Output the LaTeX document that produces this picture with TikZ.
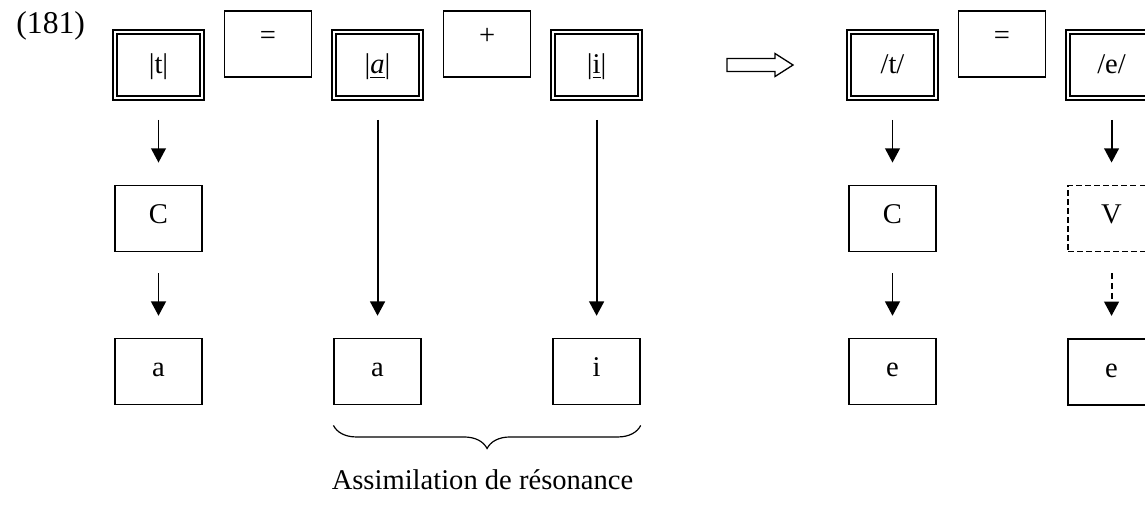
\documentclass[tikz,border=0pt]{standalone}
\usepackage{fontspec}
\setmainfont{Liberation Serif}
\usetikzlibrary{arrows.meta,positioning,decorations.pathreplacing}

\begin{document}
\begin{tikzpicture}[x=0.42pt,y=-0.42pt,>={Triangle[length=6pt,width=6.2pt]},node distance=36.1pt and 8.8pt,font=\fontsize{12}{14}\selectfont]
  \tikzstyle{boite}=[draw,line width=0.55pt,minimum width=36.5pt,inner sep=0pt,text height=16pt,text depth=11.7pt]
  \tikzstyle{boitedbl}=[boite,double,line width=0.85pt,double distance=0.85pt,text height=17.6pt,text depth=10.1pt]
  \tikzstyle{oper}=[boite,text height=13.9pt,text depth=13.8pt]
  \tikzstyle{tiret}=[boite,line width=0.6pt,dash pattern=on 2.3pt off 1.5pt]
  \tikzstyle{lien}=[->,line width=0.8pt,shorten <=8.8pt,shorten >=9.4pt]
  \path[use as bounding box,clip] (0,0) rectangle (1145,504);
  \node[anchor=base west,font=\fontsize{13.3}{15}\selectfont] (num) at (8,33) {(181)};
  % forme de depart
  \node[boitedbl] (t) at (158.5,65) {|t|};
  \node[oper,right=of t,yshift=8.8pt] (egal) {=};
  \node[boitedbl,right=of egal,yshift=-8.8pt] (a) {|\underline{\textit{a}}|};
  \node[oper,right=of a,yshift=8.8pt] (plus) {+};
  \node[boitedbl,right=of plus,yshift=-8.8pt] (i) {|\underline{i}|};
  \node[boite,below=of t] (C) {C};
  \node[boite,below=of C] (a1) {a};
  \node[boite] (aa) at (a |- a1) {a};
  \node[boite] (ii) at (i |- a1) {i};
  \draw[lien] (t) -- (C);
  \draw[lien] (C) -- (a1);
  \draw[lien] (a) -- (aa);
  \draw[lien] (i) -- (ii);
  \draw[decorate,decoration={brace,mirror,amplitude=9.7pt},line width=0.5pt] ([yshift=-8.4pt]aa.south west) -- ([yshift=-8.4pt]ii.south east);
  \node[anchor=base] (assim) at (482.5,489) {Assimilation de résonance};
  % fleche creuse
  \coordinate (fl) at ([xshift=36.1pt]i.east);
  \draw[line width=0.55pt] (fl) ++(0,-6.5) -- ++(48,0) -- ++(0,-5) -- ++(18,11.5) -- ++(-18,11.5) -- ++(0,-5) -- ++(-48,0) -- cycle;
  % forme de surface
  \node[boitedbl] (tt) at (892.5,65) {/t/};
  \node[oper,right=of tt,yshift=8.8pt] (egal2) {=};
  \node[boitedbl,right=of egal2,yshift=-8.8pt] (e) {/e/};
  \node[boite,below=of tt] (C2) {C};
  \node[boite,below=of C2] (e1) {e};
  \node[tiret,below=of e] (V) {V};
  \node[boite,below=of V] (e2) {e};
  \draw[lien] (tt) -- (C2);
  \draw[lien] (C2) -- (e1);
  \draw[lien] (e) -- (V);
  \draw[lien,dash pattern=on 2.5pt off 1.6pt] (V) -- (e2);
\end{tikzpicture}
\end{document}
